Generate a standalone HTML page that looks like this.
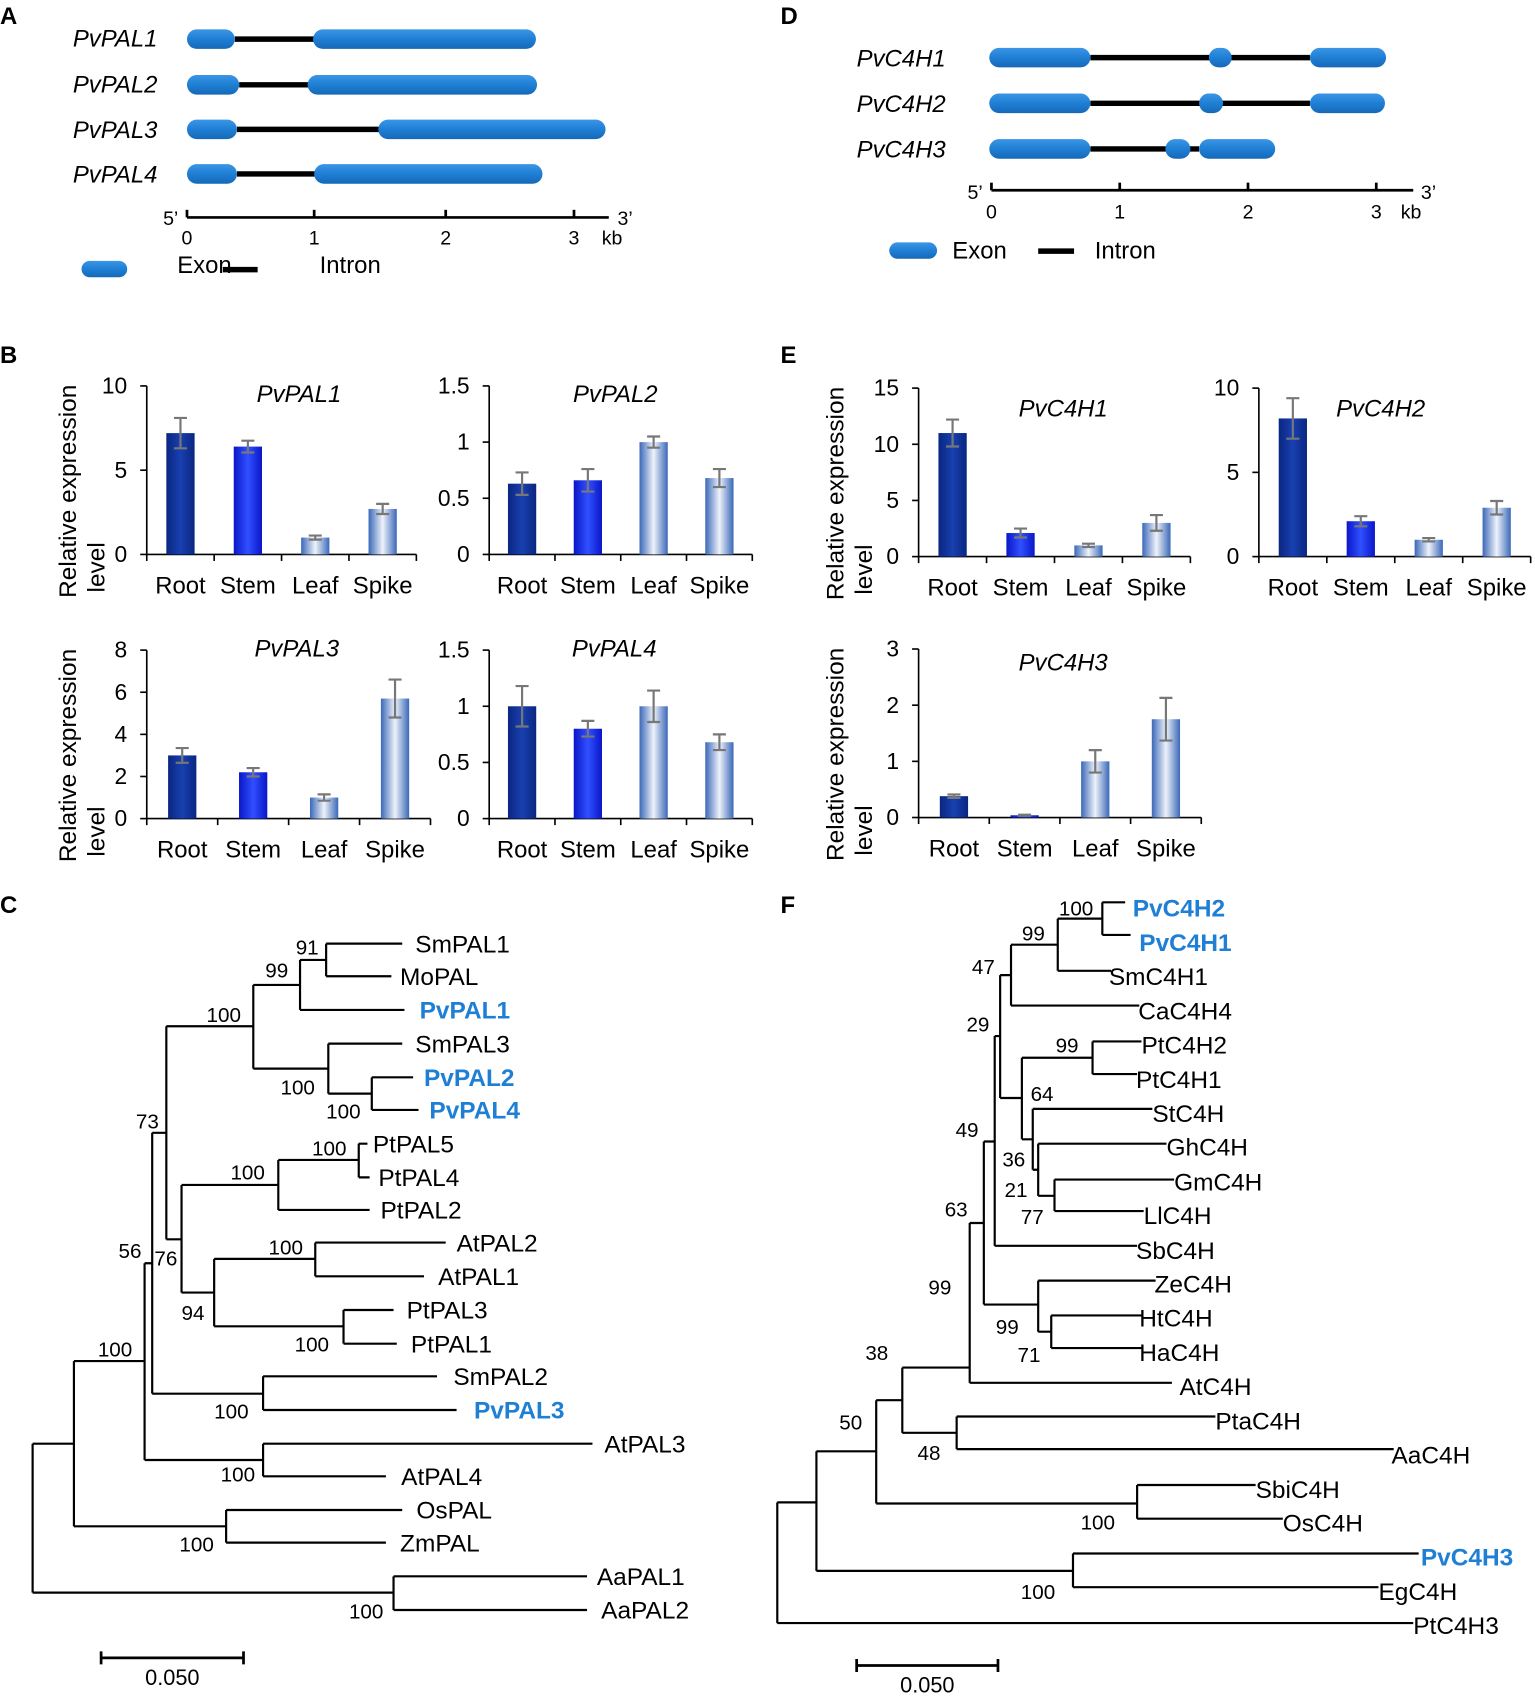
<!DOCTYPE html>
<html><head><meta charset="utf-8"><style>
html,body{margin:0;padding:0;background:#fff}
svg{display:block;font-family:"Liberation Sans",sans-serif}
</style></head><body>
<svg id="fig" width="1535" height="1702" viewBox="0 0 1412 1565.6" xmlns="http://www.w3.org/2000/svg">
<defs>
<linearGradient id="gRoot" x1="0" x2="1" y1="0" y2="0"><stop offset="0" stop-color="#0a2680"/><stop offset="0.5" stop-color="#1840b0"/><stop offset="1" stop-color="#0a2680"/></linearGradient>
<linearGradient id="gStem" x1="0" x2="1" y1="0" y2="0"><stop offset="0" stop-color="#0a16c8"/><stop offset="0.5" stop-color="#3050ff"/><stop offset="1" stop-color="#0a16c8"/></linearGradient>
<linearGradient id="gLight" x1="0" x2="1" y1="0" y2="0"><stop offset="0" stop-color="#3a68b8"/><stop offset="0.5" stop-color="#eef2fa"/><stop offset="1" stop-color="#3a68b8"/></linearGradient>
<linearGradient id="gExon" x1="0" x2="0" y1="0" y2="1"><stop offset="0" stop-color="#3a95e6"/><stop offset="0.5" stop-color="#1f7fd4"/><stop offset="1" stop-color="#1668b8"/></linearGradient>
</defs>

<g font-weight="bold" font-size="22">
<text x="0" y="22">A</text>
<text x="0" y="334">B</text>
<text x="0" y="840">C</text>
<text x="718" y="22">D</text>
<text x="718" y="334">E</text>
<text x="718" y="840">F</text>
</g>

<!-- Panel A -->
<g font-size="22">
<g font-style="italic">
<text x="67" y="43">PvPAL1</text>
<text x="67" y="85">PvPAL2</text>
<text x="67" y="127">PvPAL3</text>
<text x="67" y="168">PvPAL4</text>
</g>
<g stroke="#000" stroke-width="5">
<line x1="216" y1="36" x2="290" y2="36"/><line x1="220" y1="78" x2="285" y2="78"/><line x1="218" y1="119" x2="350" y2="119"/><line x1="218" y1="160" x2="291" y2="160"/>
</g>
<g fill="url(#gExon)">
<rect x="172" y="27" width="44" height="18" rx="9"/><rect x="288" y="27" width="205" height="18" rx="9"/>
<rect x="172" y="69" width="48" height="18" rx="9"/><rect x="283" y="69" width="211" height="18" rx="9"/>
<rect x="172" y="110" width="46" height="18" rx="9"/><rect x="348" y="110" width="209" height="18" rx="9"/>
<rect x="172" y="151" width="46" height="18" rx="9"/><rect x="289" y="151" width="210" height="18" rx="9"/>
</g>
<g stroke="#000" stroke-width="2.5"><line x1="172" y1="200" x2="560" y2="200"/>
<line x1="172" y1="193" x2="172" y2="200"/><line x1="289" y1="193" x2="289" y2="200"/><line x1="410" y1="193" x2="410" y2="200"/><line x1="528" y1="193" x2="528" y2="200"/></g>
<g font-size="18" text-anchor="middle"><text x="172" y="225">0</text><text x="289" y="225">1</text><text x="410" y="225">2</text><text x="528" y="225">3</text><text x="563" y="225">kb</text><text x="157" y="207">5’</text><text x="575" y="207">3’</text></g>
<rect x="75" y="240" width="42" height="15" rx="7.5" fill="url(#gExon)"/>
<text x="163" y="251">Exon</text>
<line x1="205" y1="248" x2="237" y2="248" stroke="#000" stroke-width="5"/>
<text x="294" y="251">Intron</text>
</g>

<!-- Panel D -->
<g font-size="22">
<g font-style="italic">
<text x="788" y="61">PvC4H1</text><text x="788" y="103">PvC4H2</text><text x="788" y="145">PvC4H3</text>
</g>
<g stroke="#000" stroke-width="5">
<line x1="1003" y1="53" x2="1205" y2="53"/><line x1="1003" y1="95" x2="1205" y2="95"/><line x1="1003" y1="137" x2="1103" y2="137"/>
</g>
<g fill="url(#gExon)">
<rect x="910" y="44" width="93" height="18" rx="9"/><rect x="1112" y="44" width="21" height="18" rx="9"/><rect x="1205" y="44" width="70" height="18" rx="9"/>
<rect x="910" y="86" width="93" height="18" rx="9"/><rect x="1103" y="86" width="22" height="18" rx="9"/><rect x="1205" y="86" width="69" height="18" rx="9"/>
<rect x="910" y="128" width="93" height="18" rx="9"/><rect x="1072" y="128" width="23" height="18" rx="9"/><rect x="1103" y="128" width="70" height="18" rx="9"/>
</g>
<g stroke="#000" stroke-width="2.5"><line x1="912" y1="175" x2="1300" y2="175"/>
<line x1="912" y1="168" x2="912" y2="175"/><line x1="1030" y1="168" x2="1030" y2="175"/><line x1="1148" y1="168" x2="1148" y2="175"/><line x1="1266" y1="168" x2="1266" y2="175"/></g>
<g font-size="18" text-anchor="middle"><text x="912" y="201">0</text><text x="1030" y="201">1</text><text x="1148" y="201">2</text><text x="1266" y="201">3</text><text x="1298" y="201">kb</text><text x="897" y="183">5’</text><text x="1314" y="183">3’</text></g>
<rect x="818" y="223" width="44" height="15" rx="7.5" fill="url(#gExon)"/>
<text x="876" y="238">Exon</text>
<line x1="955" y1="231" x2="988" y2="231" stroke="#000" stroke-width="5"/>
<text x="1007" y="238">Intron</text>
</g>

<g id="charts"></g>
<g id="treeC"></g>
<g id="treeF"></g>
</svg>
<script>
const categories = ["Root","Stem","Leaf","Spike"];
const pal1Values = [7.2, 6.4, 1.0, 2.7];
const pal1Errors = [0.9, 0.35, 0.12, 0.3];
const pal2Values = [0.63, 0.66, 1.0, 0.68];
const pal2Errors = [0.1, 0.1, 0.05, 0.08];
const pal3Values = [3.0, 2.2, 1.0, 5.7];
const pal3Errors = [0.35, 0.2, 0.15, 0.9];
const pal4Values = [1.0, 0.8, 1.0, 0.68];
const pal4Errors = [0.18, 0.07, 0.14, 0.07];
const c4h1Values = [11.0, 2.1, 1.0, 3.0];
const c4h1Errors = [1.2, 0.4, 0.15, 0.7];
const c4h2Values = [8.2, 2.1, 1.0, 2.9];
const c4h2Errors = [1.2, 0.3, 0.1, 0.4];
const c4h3Values = [0.38, 0.04, 1.0, 1.75];
const c4h3Errors = [0.03, 0.01, 0.2, 0.38];
const pal1Ticks = [0, 5, 10];
const pal2Ticks = [0, 0.5, 1, 1.5];
const pal3Ticks = [0, 2, 4, 6, 8];
const pal4Ticks = [0, 0.5, 1, 1.5];
const c4h1Ticks = [0, 5, 10, 15];
const c4h2Ticks = [0, 5, 10];
const c4h3Ticks = [0, 1, 2, 3];

const NS = "http://www.w3.org/2000/svg";
function mk(parent, tag, attrs, txt){
  const e = document.createElementNS(NS, tag);
  for (const k in attrs) e.setAttribute(k, attrs[k]);
  if (txt !== undefined) e.textContent = txt;
  parent.appendChild(e); return e;
}
const fills = ["url(#gRoot)","url(#gStem)","url(#gLight)","url(#gLight)"];
function barChart(title, vals, errs, ticks, L){
  const root = document.getElementById('charts');
  const g = mk(root, 'g', {});
  
  
  const max = ticks[ticks.length-1];
  const y = v => L.y0 - (v/max)*(L.y0 - L.yTop);
  const step = (L.x1 - L.x0)/categories.length;
  const x = i => L.x0 + step*(i+0.5);
  mk(g,'line',{x1:L.x0,y1:L.yTop,x2:L.x0,y2:L.y0,stroke:'#000','stroke-width':1.5});
  mk(g,'line',{x1:L.x0,y1:L.y0,x2:L.x1,y2:L.y0,stroke:'#000','stroke-width':1.5});
  ticks.forEach(t=>{
    mk(g,'line',{x1:L.x0-6,y1:y(t),x2:L.x0,y2:y(t),stroke:'#000','stroke-width':1.5});
    const tl = mk(g,'text',{x:L.x0-18,y:y(t)+7,'text-anchor':'end','font-size':21},String(t));
    
    
  });
  for(let i=0;i<=categories.length;i++){
    mk(g,'line',{x1:L.x0+step*i,y1:L.y0,x2:L.x0+step*i,y2:L.y0+6,stroke:'#000','stroke-width':1.5});
  }
  vals.forEach((v,i)=>{
    const b = mk(g,'rect',{x:x(i)-13,y:y(v),width:26,height:L.y0-y(v),fill:fills[i]});
    
    
    const e = errs[i];
    const eb = mk(g,'path',{d:`M${x(i)},${y(v+e)}V${y(v-e)}M${x(i)-6},${y(v+e)}H${x(i)+6}M${x(i)-6},${y(v-e)}H${x(i)+6}`,stroke:'#777','stroke-width':2,fill:'none'});
    
    
    const cl = mk(g,'text',{x:x(i),y:L.y0+36,'text-anchor':'middle','font-size':22},categories[i]);
    
    
  });
  const tt = mk(g,'text',{x:L.tx,y:L.ty,'text-anchor':'middle','font-size':22,'font-style':'italic'},title);
  
  
  if (L.ylab){
    const a = mk(g,'text',{transform:`translate(${L.ylx},${L.y0+40}) rotate(-90)`,'font-size':22.5},'Relative expression');
    
    
    mk(g,'text',{transform:`translate(${L.ylx+26},${L.y0+35}) rotate(-90)`,'font-size':22.5},'level');
  }
}
barChart('PvPAL1', pal1Values, pal1Errors, pal1Ticks, {x0:135,x1:383,y0:510,yTop:355,tx:275,ty:370,ylab:true,ylx:70});
barChart('PvPAL2', pal2Values, pal2Errors, pal2Ticks, {x0:450,x1:692,y0:510,yTop:355,tx:566,ty:370});
barChart('PvPAL3', pal3Values, pal3Errors, pal3Ticks, {x0:135,x1:396,y0:753,yTop:598,tx:273,ty:604,ylab:true,ylx:70});
barChart('PvPAL4', pal4Values, pal4Errors, pal4Ticks, {x0:450,x1:692,y0:753,yTop:598,tx:565,ty:604});
barChart('PvC4H1', c4h1Values, c4h1Errors, c4h1Ticks, {x0:845,x1:1095,y0:512,yTop:357,tx:978,ty:383,ylab:true,ylx:776});
barChart('PvC4H2', c4h2Values, c4h2Errors, c4h2Ticks, {x0:1158,x1:1408,y0:512,yTop:357,tx:1270,ty:383});
barChart('PvC4H3', c4h3Values, c4h3Errors, c4h3Ticks, {x0:845,x1:1105,y0:752,yTop:597,tx:978,ty:617,ylab:true,ylx:776});

function tree(id, paths, leaves, labels, scale){
  const g = document.getElementById(id);
  mk(g,'path',{d:paths,stroke:'#000','stroke-width':2,fill:'none'});
  leaves.forEach(l=>{
    const t = mk(g,'text',{x:l[1],y:l[2]+8,'font-size':22.5,fill:l[3]?'#1f7fd4':'#000','font-weight':l[3]?'bold':'normal'},l[0]);
    
    
  });
  labels.forEach(l=>{ mk(g,'text',{x:l[1],y:l[2],'font-size':19},l[0]); });
  mk(g,'path',{d:`M${scale[0]},${scale[2]-6}V${scale[2]+6}M${scale[0]},${scale[2]}H${scale[1]}M${scale[1]},${scale[2]-6}V${scale[2]+6}`,stroke:'#000','stroke-width':2.5,fill:'none'});
  mk(g,'text',{x:(scale[0]+scale[1])/2,y:scale[2]+25,'font-size':20,'text-anchor':'middle'},'0.050');
}
tree('treeC',
 "M300,868V898M300,868H370M300,898H360"+
 "M276,883V929M276,883H300M276,929H372"+
 "M342,991V1021M342,991H380M342,1021H385"+
 "M302,960V1006M302,960H370M302,1006H342"+
 "M233,906V983M233,906H276M233,983H302"+
 "M330,1052V1083M330,1052H338M330,1083H340"+
 "M256,1067V1113M256,1067H330M256,1113H340"+
 "M290,1143V1174M290,1143H410M290,1174H390"+
 "M316,1205V1236M316,1205H362M316,1236H365"+
 "M197,1158V1220M197,1158H290M197,1220H316"+
 "M167,1090V1189M167,1090H256M167,1189H197"+
 "M153,944V1140M153,944H233M153,1140H167"+
 "M242,1266V1297M242,1266H402M242,1297H420"+
 "M140,1042V1282M140,1042H153M140,1282H242"+
 "M242,1328V1358M242,1328H545M242,1358H355"+
 "M133,1162V1343M133,1162H140M133,1343H242"+
 "M208,1389V1419M208,1389H370M208,1419H355"+
 "M68,1252V1404M68,1252H133M68,1404H208"+
 "M362,1450V1481M362,1450H540M362,1481H540"+
 "M30,1328V1465M30,1328H68M30,1465H362",
 [["SmPAL1",382,868],["MoPAL",368,898],["PvPAL1",386,929,1],["SmPAL3",382,960],["PvPAL2",390,991,1],["PvPAL4",395,1021,1],
  ["PtPAL5",343,1052],["PtPAL4",348,1083],["PtPAL2",350,1113],["AtPAL2",420,1143],["AtPAL1",403,1174],["PtPAL3",374,1205],["PtPAL1",378,1236],
  ["SmPAL2",417,1266],["PvPAL3",436,1297,1],["AtPAL3",556,1328],["AtPAL4",369,1358],["OsPAL",383,1389],["ZmPAL",368,1419],["AaPAL1",549,1450],["AaPAL2",553,1481]],
 [["91",272,878],["99",244,899],["100",190,940],["100",258,1007],["100",300,1029],["73",125,1038],["100",287,1063],["100",212,1085],["100",247,1154],
  ["56",109,1157],["76",142,1164],["94",167,1214],["100",271,1243],["100",90,1248],["100",197,1305],["100",203,1363],["100",165,1427],["100",321,1489]],
 [93,224,1525]);
tree('treeF',
 "M1014,830V860M1014,830H1035M1014,860H1040"+
 "M973,845V893M973,845H1014M973,893H1022"+
 "M930,869V925M930,869H973M930,925H1048"+
 "M1005,958V988M1005,958H1050M1005,988H1046"+
 "M970,1085V1114M970,1085H1080M970,1114H1052"+
 "M955,1052V1100M955,1052H1073M955,1100H970"+
 "M950,1020V1076M950,1020H1060M950,1076H955"+
 "M940,973V1048M940,973H1005M940,1048H950"+
 "M920,897V1010M920,897H930M920,1010H940"+
 "M915,953V1146M915,953H920M915,1146H1046"+
 "M967,1210V1240M967,1210H1050M967,1240H1050"+
 "M955,1178V1225M955,1178H1063M955,1225H967"+
 "M905,1050V1200M905,1050H915M905,1200H955"+
 "M892,1125V1272M892,1125H905M892,1272H1078"+
 "M880,1303V1333M880,1303H1118M880,1333H1282"+
 "M830,1258V1318M830,1258H892M830,1318H880"+
 "M1046,1366V1397M1046,1366H1155M1046,1397H1180"+
 "M806,1288V1383M806,1288H830M806,1383H1046"+
 "M987,1429V1460M987,1429H1305M987,1460H1268"+
 "M751,1335V1445M751,1335H806M751,1445H987"+
 "M715,1382V1493M715,1382H751M715,1493H1300",
 [["PvC4H2",1042,835,1],["PvC4H1",1048,867,1],["SmC4H1",1020,898],["CaC4H4",1047,930],["PtC4H2",1050,961],["PtC4H1",1045,993],["StC4H",1060,1024],
  ["GhC4H",1073,1055],["GmC4H",1080,1087],["LlC4H",1052,1118],["SbC4H",1045,1150],["ZeC4H",1062,1181],["HtC4H",1048,1212],["HaC4H",1048,1244],
  ["AtC4H",1085,1275],["PtaC4H",1118,1307],["AaC4H",1280,1338],["SbiC4H",1155,1370],["OsC4H",1180,1401],["PvC4H3",1307,1432,1],["EgC4H",1268,1464],["PtC4H3",1300,1495]],
 [["100",974,842],["99",940,865],["47",894,896],["99",971,968],["29",889,949],["64",948,1013],["49",879,1046],["36",922,1073],["21",924,1101],["77",939,1126],
  ["63",869,1119],["99",854,1191],["99",916,1227],["71",936,1253],["38",796,1251],["50",772,1315],["48",844,1343],["100",994,1407],["100",939,1471]],
 [788,918,1532]);
</script>
</body></html>
